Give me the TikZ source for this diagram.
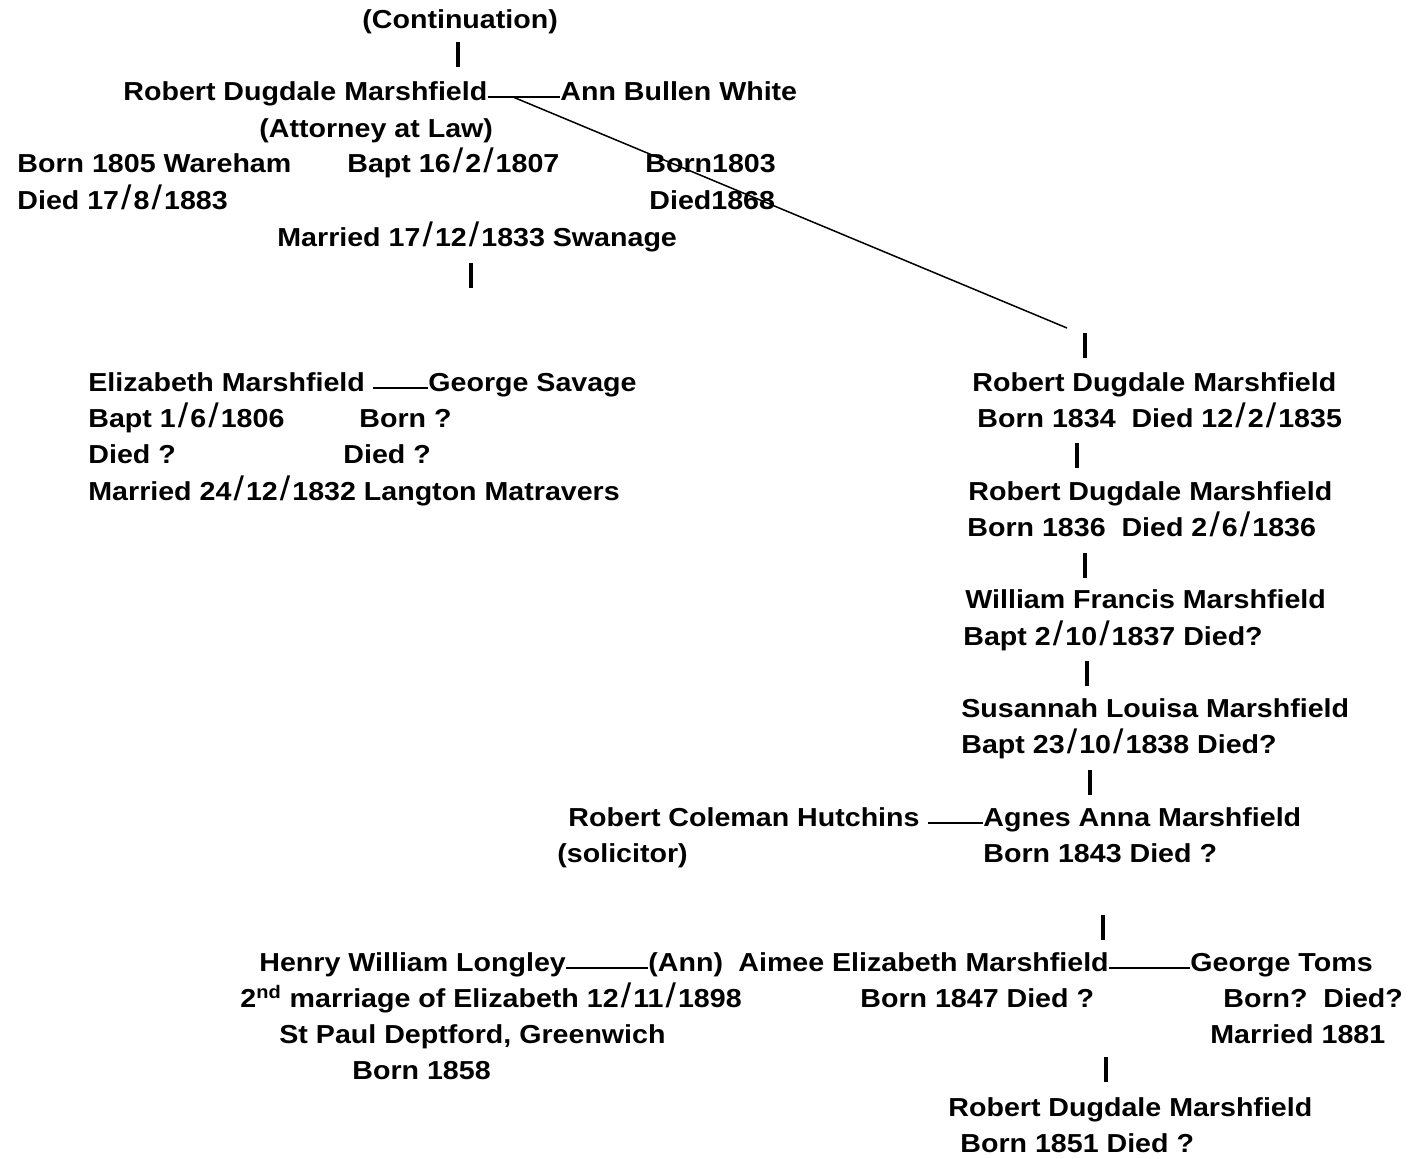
\documentclass[tikz,border=0pt]{standalone}
\usepackage{fontspec}
\setmainfont{Liberation Sans}[FakeStretch=1.1]
\newcommand{\dsl}{\kern0.08em{\fontsize{17}{16}\selectfont\mdseries/}\kern0.08em}

\begin{document}
\begin{tikzpicture}[
  x=0.5pt, y=-0.5pt,
  font=\fontsize{13}{16}\selectfont\bfseries,
  txt/.style={anchor=base west, inner sep=0pt},
  tick/.style={fill=black, inner sep=0pt, minimum width=1.6pt, minimum height=12.5pt},
  wed/.style={line width=1.1pt},
  desc/.style={line width=0.75pt},
]
\useasboundingbox (0,0) rectangle (1418,1158);
% parents
\node[txt] (cont) at (362,28) {(Continuation)};
\node[tick] (t0) at (458,54) {};
\node[txt] (rdm) at (123,100) {Robert Dugdale Marshfield};
\node[txt] (abw) at (560,100) {Ann Bullen White};
\node[txt] (rdmjob) at (259,137) {(Attorney at Law)};
\node[txt] (rdmb) at (17,172) {Born 1805 Wareham};
\node[txt] (rdmbapt) at (347,172) {Bapt 16\dsl 2\dsl 1807};
\node[txt] (abwb) at (645,172) {Born1803};
\node[txt] (rdmd) at (17,209) {Died 17\dsl 8\dsl 1883};
\node[txt] (abwd) at (649,209) {Died1868};
\node[txt] (rdmm) at (277,246) {Married 17\dsl 12\dsl 1833 Swanage};
\node[tick] (t1) at (471,275) {};
\draw[wed] ([yshift=1.5pt]rdm.base east) -- ([yshift=1.5pt]abw.base west);
\coordinate (split) at (513,97);
\coordinate (kids) at (1067,328);
\draw[desc] (split) -- (kids);

% sister
\node[txt] (em) at (88,391) {Elizabeth Marshfield};
\node[txt] (gs) at (428,391) {George Savage};
\node[txt] (emb) at (88,427) {Bapt 1\dsl 6\dsl 1806};
\node[txt] (gsb) at (359,427) {Born ?};
\node[txt] (emd) at (88,463) {Died ?};
\node[txt] (gsd) at (343,463) {Died ?};
\node[txt] (emm) at (88,500) {Married 24\dsl 12\dsl 1832 Langton Matravers};
\draw[wed] ([xshift=4pt,yshift=1.5pt]em.base east) -- ([yshift=1.5pt]gs.base west);

% children
\node[tick] (t2) at (1085,345) {};
\node[txt] (c1) at (972,391) {Robert Dugdale Marshfield};
\node[txt] (c1b) at (977,427) {Born 1834\ \ Died 12\dsl 2\dsl 1835};
\node[tick] (t3) at (1077,455) {};
\node[txt] (c2) at (968,500) {Robert Dugdale Marshfield};
\node[txt] (c2b) at (967,536) {Born 1836\ \ Died 2\dsl 6\dsl 1836};
\node[tick] (t4) at (1085,565) {};
\node[txt] (c3) at (965,608) {William Francis Marshfield};
\node[txt] (c3b) at (963,645) {Bapt 2\dsl 10\dsl 1837 Died?};
\node[tick] (t5) at (1087,673) {};
\node[txt] (c4) at (961,717) {Susannah Louisa Marshfield};
\node[txt] (c4b) at (961,753) {Bapt 23\dsl 10\dsl 1838 Died?};
\node[tick] (t6) at (1090,782) {};
\node[txt] (rch) at (568,826) {Robert Coleman Hutchins};
\node[txt] (c5) at (983,826) {Agnes Anna Marshfield};
\node[txt] (rchjob) at (557,862) {(solicitor)};
\node[txt] (c5b) at (983,862) {Born 1843 Died ?};
\draw[wed] ([xshift=4pt,yshift=1.5pt]rch.base east) -- ([yshift=1.5pt]c5.base west);
\node[tick] (t7) at (1103,927) {};
\node[txt] (hwl) at (259,971) {Henry William Longley};
\node[txt] (ann) at (648,971) {(Ann)};
\node[txt] (c6) at (738,971) {Aimee Elizabeth Marshfield};
\node[txt] (gt) at (1190,971) {George Toms};
\node[txt] (hwlm) at (240,1007) {2\textsuperscript{nd} marriage of Elizabeth 12\dsl 11\dsl 1898};
\node[txt] (c6b) at (860,1007) {Born 1847 Died ?};
\node[txt] (gtb) at (1223,1007) {Born?\ \ Died?};
\node[txt] (hwlp) at (279,1043) {St Paul Deptford, Greenwich};
\node[txt] (gtm) at (1210,1043) {Married 1881};
\node[txt] (hwlb) at (352,1079) {Born 1858};
\draw[wed] ([yshift=1.5pt]hwl.base east) -- ([yshift=1.5pt]ann.base west);
\draw[wed] ([yshift=1.5pt]c6.base east) -- ([yshift=1.5pt]gt.base west);
\node[tick] (t8) at (1106,1069) {};
\node[txt] (c7) at (948,1116) {Robert Dugdale Marshfield};
\node[txt] (c7b) at (960,1152) {Born 1851 Died ?};
\end{tikzpicture}
\end{document}
